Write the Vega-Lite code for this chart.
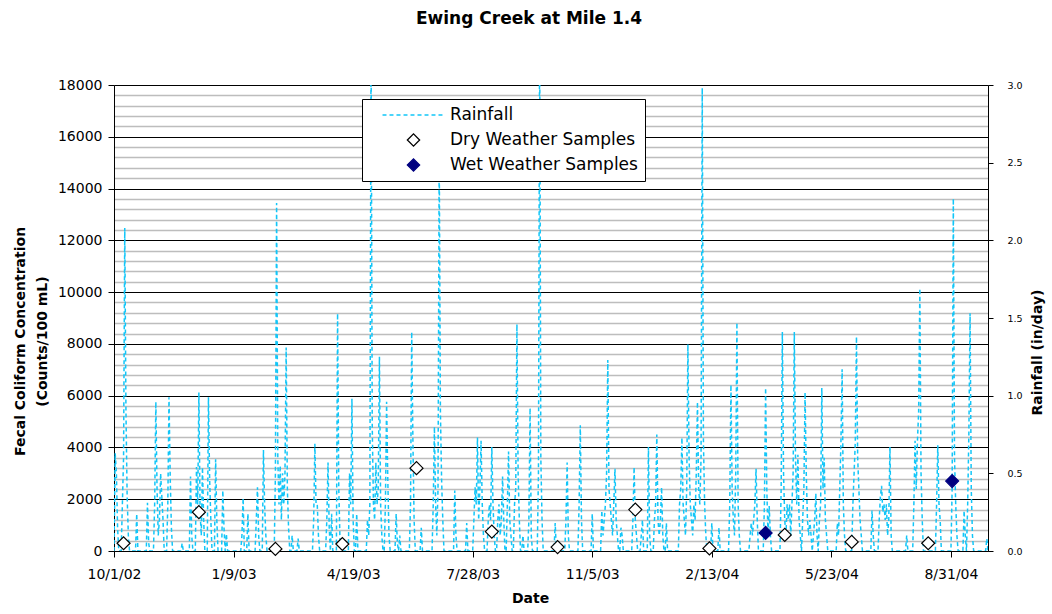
{
"$schema":"https://vega.github.io/schema/vega-lite/v6.json",
"width":874,"height":466,
"autosize":{"type":"none"},
"padding":{"left":114,"top":85,"right":64,"bottom":63},
"background":"white",
"config":{"font":"DejaVu Sans","view":{"stroke":null},
 "axis":{"labelFont":"DejaVu Sans","titleFont":"DejaVu Sans","domainColor":"black","tickColor":"black","labelColor":"black","titleColor":"black","titleFontWeight":"bold","titleFontSize":14}},
"title":{"text":"Ewing Creek at Mile 1.4","font":"DejaVu Sans","fontWeight":"bold","fontSize":17,"anchor":"middle","frame":"group","dx":-22,"offset":50,"color":"black"},
"datasets":{
"rain":[
{"d":"2002-10-01","r":0},{"d":"2002-10-02","r":0.63},{"d":"2002-10-03","r":0.5},{"d":"2002-10-04","r":0.15},{"d":"2002-10-05","r":0},
{"d":"2002-10-07","r":0},{"d":"2002-10-08","r":0.3},{"d":"2002-10-09","r":0.6},{"d":"2002-10-10","r":2.08},{"d":"2002-10-11","r":0.9},{"d":"2002-10-12","r":0.35},{"d":"2002-10-13","r":0.1},{"d":"2002-10-14","r":0},
{"d":"2002-10-19","r":0},{"d":"2002-10-20","r":0.24},{"d":"2002-10-21","r":0},
{"d":"2002-10-28","r":0},{"d":"2002-10-29","r":0.31},{"d":"2002-10-30","r":0.05},{"d":"2002-10-31","r":0},
{"d":"2002-11-03","r":0},{"d":"2002-11-04","r":0.3},{"d":"2002-11-05","r":0.96},{"d":"2002-11-06","r":0.4},{"d":"2002-11-07","r":0.1},{"d":"2002-11-08","r":0.2},{"d":"2002-11-09","r":0.5},{"d":"2002-11-10","r":0.35},{"d":"2002-11-11","r":0.2},{"d":"2002-11-12","r":0},
{"d":"2002-11-14","r":0},{"d":"2002-11-15","r":0.3},{"d":"2002-11-16","r":0.99},{"d":"2002-11-17","r":0.48},{"d":"2002-11-18","r":0.15},{"d":"2002-11-19","r":0},
{"d":"2002-11-26","r":0},{"d":"2002-11-27","r":0.05},{"d":"2002-11-28","r":0},
{"d":"2002-12-03","r":0},{"d":"2002-12-04","r":0.48},{"d":"2002-12-05","r":0.1},{"d":"2002-12-06","r":0},
{"d":"2002-12-08","r":0},{"d":"2002-12-09","r":0.54},{"d":"2002-12-10","r":0.3},{"d":"2002-12-11","r":1.02},{"d":"2002-12-12","r":0.25},{"d":"2002-12-13","r":0.1},{"d":"2002-12-14","r":0.54},{"d":"2002-12-15","r":0.2},{"d":"2002-12-16","r":0},
{"d":"2002-12-18","r":0},{"d":"2002-12-19","r":0.99},{"d":"2002-12-20","r":0.46},{"d":"2002-12-21","r":0.2},{"d":"2002-12-22","r":0},
{"d":"2002-12-24","r":0},{"d":"2002-12-25","r":0.59},{"d":"2002-12-26","r":0.2},{"d":"2002-12-27","r":0},
{"d":"2002-12-30","r":0},{"d":"2002-12-31","r":0.39},{"d":"2003-01-01","r":0.15},{"d":"2003-01-02","r":0},{"d":"2003-01-03","r":0.11},{"d":"2003-01-04","r":0},
{"d":"2003-01-15","r":0},{"d":"2003-01-16","r":0.1},{"d":"2003-01-17","r":0.34},{"d":"2003-01-18","r":0},
{"d":"2003-01-20","r":0},{"d":"2003-01-21","r":0.24},{"d":"2003-01-22","r":0},
{"d":"2003-01-27","r":0},{"d":"2003-01-28","r":0.2},{"d":"2003-01-29","r":0.41},{"d":"2003-01-30","r":0.1},{"d":"2003-01-31","r":0},
{"d":"2003-02-02","r":0},{"d":"2003-02-03","r":0.65},{"d":"2003-02-04","r":0.29},{"d":"2003-02-05","r":0.1},{"d":"2003-02-06","r":0},
{"d":"2003-02-12","r":0},{"d":"2003-02-13","r":0.5},{"d":"2003-02-14","r":2.24},{"d":"2003-02-15","r":0.6},{"d":"2003-02-16","r":0.3},{"d":"2003-02-17","r":0.55},{"d":"2003-02-18","r":0.2},{"d":"2003-02-19","r":0.5},{"d":"2003-02-20","r":0.3},{"d":"2003-02-21","r":0.5},{"d":"2003-02-22","r":1.31},{"d":"2003-02-23","r":0.4},{"d":"2003-02-24","r":0.15},{"d":"2003-02-25","r":0},
{"d":"2003-02-26","r":0},{"d":"2003-02-27","r":0.1},{"d":"2003-02-28","r":0},
{"d":"2003-03-03","r":0},{"d":"2003-03-04","r":0.08},{"d":"2003-03-05","r":0},
{"d":"2003-03-16","r":0},{"d":"2003-03-17","r":0.2},{"d":"2003-03-18","r":0.69},{"d":"2003-03-19","r":0.3},{"d":"2003-03-20","r":0.3},{"d":"2003-03-21","r":0.1},{"d":"2003-03-22","r":0},
{"d":"2003-03-27","r":0},{"d":"2003-03-28","r":0.2},{"d":"2003-03-29","r":0.57},{"d":"2003-03-30","r":0.15},{"d":"2003-03-31","r":0},{"d":"2003-04-01","r":0.24},{"d":"2003-04-02","r":0},
{"d":"2003-04-05","r":0},{"d":"2003-04-06","r":1.53},{"d":"2003-04-07","r":0.4},{"d":"2003-04-08","r":0.07},{"d":"2003-04-09","r":0},
{"d":"2003-04-15","r":0},{"d":"2003-04-16","r":0.5},{"d":"2003-04-17","r":0.3},{"d":"2003-04-18","r":0.98},{"d":"2003-04-19","r":0.2},{"d":"2003-04-20","r":0},
{"d":"2003-04-21","r":0},{"d":"2003-04-22","r":0.24},{"d":"2003-04-23","r":0},
{"d":"2003-04-30","r":0},{"d":"2003-05-01","r":0.2},{"d":"2003-05-02","r":0.1},{"d":"2003-05-03","r":0.3},{"d":"2003-05-04","r":3.3},{"d":"2003-05-05","r":0.8},{"d":"2003-05-06","r":0.3},{"d":"2003-05-07","r":0.2},{"d":"2003-05-08","r":0.57},{"d":"2003-05-09","r":0.3},{"d":"2003-05-10","r":0.4},{"d":"2003-05-11","r":1.25},{"d":"2003-05-12","r":0.3},{"d":"2003-05-13","r":0.1},{"d":"2003-05-14","r":0},
{"d":"2003-05-15","r":0},{"d":"2003-05-16","r":0.3},{"d":"2003-05-17","r":0.96},{"d":"2003-05-18","r":0.46},{"d":"2003-05-19","r":0.1},{"d":"2003-05-20","r":0},
{"d":"2003-05-24","r":0},{"d":"2003-05-25","r":0.24},{"d":"2003-05-26","r":0.05},{"d":"2003-05-27","r":0},{"d":"2003-05-28","r":0.1},{"d":"2003-05-29","r":0},
{"d":"2003-06-05","r":0},{"d":"2003-06-06","r":0.3},{"d":"2003-06-07","r":1.41},{"d":"2003-06-08","r":0.71},{"d":"2003-06-09","r":0.2},{"d":"2003-06-10","r":0},
{"d":"2003-06-14","r":0},{"d":"2003-06-15","r":0.15},{"d":"2003-06-16","r":0},
{"d":"2003-06-24","r":0},{"d":"2003-06-25","r":0.3},{"d":"2003-06-26","r":0.8},{"d":"2003-06-27","r":0.3},{"d":"2003-06-28","r":0.1},{"d":"2003-06-29","r":0.4},{"d":"2003-06-30","r":2.6},{"d":"2003-07-01","r":0.9},{"d":"2003-07-02","r":0.46},{"d":"2003-07-03","r":0.2},{"d":"2003-07-04","r":0},
{"d":"2003-07-12","r":0},{"d":"2003-07-13","r":0.39},{"d":"2003-07-14","r":0.1},{"d":"2003-07-15","r":0},
{"d":"2003-07-22","r":0},{"d":"2003-07-23","r":0.18},{"d":"2003-07-24","r":0},
{"d":"2003-07-28","r":0},{"d":"2003-07-29","r":0.2},{"d":"2003-07-30","r":0.41},{"d":"2003-07-31","r":0.3},{"d":"2003-08-01","r":0.73},{"d":"2003-08-02","r":0.2},{"d":"2003-08-03","r":0.4},{"d":"2003-08-04","r":0.71},{"d":"2003-08-05","r":0.3},{"d":"2003-08-06","r":0.1},{"d":"2003-08-07","r":0},
{"d":"2003-08-09","r":0},{"d":"2003-08-10","r":0.2},{"d":"2003-08-11","r":0.3},{"d":"2003-08-12","r":0.2},{"d":"2003-08-13","r":0.67},{"d":"2003-08-14","r":0.3},{"d":"2003-08-15","r":0.1},{"d":"2003-08-16","r":0},
{"d":"2003-08-17","r":0},{"d":"2003-08-18","r":0.2},{"d":"2003-08-19","r":0.3},{"d":"2003-08-20","r":0.1},{"d":"2003-08-21","r":0.2},{"d":"2003-08-22","r":0.48},{"d":"2003-08-23","r":0.2},{"d":"2003-08-24","r":0},
{"d":"2003-08-25","r":0},{"d":"2003-08-26","r":0.3},{"d":"2003-08-27","r":0.64},{"d":"2003-08-28","r":0.2},{"d":"2003-08-29","r":0.1},{"d":"2003-08-30","r":0},
{"d":"2003-08-31","r":0},{"d":"2003-09-01","r":0.3},{"d":"2003-09-02","r":0.4},{"d":"2003-09-03","r":1.46},{"d":"2003-09-04","r":0.5},{"d":"2003-09-05","r":0.2},{"d":"2003-09-06","r":0},
{"d":"2003-09-07","r":0},{"d":"2003-09-08","r":0.1},{"d":"2003-09-09","r":0},
{"d":"2003-09-12","r":0},{"d":"2003-09-13","r":0.2},{"d":"2003-09-14","r":0.92},{"d":"2003-09-15","r":0.1},{"d":"2003-09-16","r":0},
{"d":"2003-09-20","r":0},{"d":"2003-09-21","r":0.5},{"d":"2003-09-22","r":3.4},{"d":"2003-09-23","r":0.6},{"d":"2003-09-24","r":0.2},{"d":"2003-09-25","r":0},
{"d":"2003-10-04","r":0},{"d":"2003-10-05","r":0.18},{"d":"2003-10-06","r":0},
{"d":"2003-10-13","r":0},{"d":"2003-10-14","r":0.2},{"d":"2003-10-15","r":0.57},{"d":"2003-10-16","r":0.1},{"d":"2003-10-17","r":0},
{"d":"2003-10-24","r":0},{"d":"2003-10-25","r":0.3},{"d":"2003-10-26","r":0.81},{"d":"2003-10-27","r":0.2},{"d":"2003-10-28","r":0},
{"d":"2003-11-04","r":0},{"d":"2003-11-05","r":0.24},{"d":"2003-11-06","r":0},
{"d":"2003-11-12","r":0},{"d":"2003-11-13","r":0.26},{"d":"2003-11-14","r":0.1},{"d":"2003-11-15","r":0.2},{"d":"2003-11-16","r":0.3},{"d":"2003-11-17","r":0.5},{"d":"2003-11-18","r":1.23},{"d":"2003-11-19","r":0.4},{"d":"2003-11-20","r":0.3},{"d":"2003-11-21","r":0.2},{"d":"2003-11-22","r":0.1},{"d":"2003-11-23","r":0.3},{"d":"2003-11-24","r":0.53},{"d":"2003-11-25","r":0.2},{"d":"2003-11-26","r":0.1},{"d":"2003-11-27","r":0},
{"d":"2003-11-28","r":0},{"d":"2003-11-29","r":0.15},{"d":"2003-11-30","r":0.1},{"d":"2003-12-01","r":0},
{"d":"2003-12-08","r":0},{"d":"2003-12-09","r":0.2},{"d":"2003-12-10","r":0.54},{"d":"2003-12-11","r":0.2},{"d":"2003-12-12","r":0.1},{"d":"2003-12-13","r":0},
{"d":"2003-12-15","r":0},{"d":"2003-12-16","r":0.1},{"d":"2003-12-17","r":0.2},{"d":"2003-12-18","r":0},
{"d":"2003-12-21","r":0},{"d":"2003-12-22","r":0.67},{"d":"2003-12-23","r":0.1},{"d":"2003-12-24","r":0},
{"d":"2003-12-26","r":0},{"d":"2003-12-27","r":0.2},{"d":"2003-12-28","r":0.3},{"d":"2003-12-29","r":0.75},{"d":"2003-12-30","r":0.2},{"d":"2003-12-31","r":0.1},{"d":"2004-01-01","r":0.2},{"d":"2004-01-02","r":0.41},{"d":"2004-01-03","r":0.1},{"d":"2004-01-04","r":0},
{"d":"2004-01-05","r":0},{"d":"2004-01-06","r":0.18},{"d":"2004-01-07","r":0},
{"d":"2004-01-16","r":0},{"d":"2004-01-17","r":0.3},{"d":"2004-01-18","r":0.4},{"d":"2004-01-19","r":0.73},{"d":"2004-01-20","r":0.3},{"d":"2004-01-21","r":0.2},{"d":"2004-01-22","r":0.1},{"d":"2004-01-23","r":0.4},{"d":"2004-01-24","r":1.33},{"d":"2004-01-25","r":0.6},{"d":"2004-01-26","r":0.3},{"d":"2004-01-27","r":0.2},{"d":"2004-01-28","r":0.1},{"d":"2004-01-29","r":0.3},{"d":"2004-01-30","r":0.2},{"d":"2004-01-31","r":0.5},{"d":"2004-02-01","r":0.96},{"d":"2004-02-02","r":0.4},{"d":"2004-02-03","r":0.3},{"d":"2004-02-04","r":0.6},{"d":"2004-02-05","r":2.98},{"d":"2004-02-06","r":0.7},{"d":"2004-02-07","r":0.3},{"d":"2004-02-08","r":0.1},{"d":"2004-02-09","r":0},
{"d":"2004-02-12","r":0},{"d":"2004-02-13","r":0.18},{"d":"2004-02-14","r":0},
{"d":"2004-02-18","r":0},{"d":"2004-02-19","r":0.15},{"d":"2004-02-20","r":0},
{"d":"2004-02-27","r":0},{"d":"2004-02-28","r":0.3},{"d":"2004-02-29","r":1.07},{"d":"2004-03-01","r":0.4},{"d":"2004-03-02","r":0.2},{"d":"2004-03-03","r":0.1},{"d":"2004-03-04","r":0.5},{"d":"2004-03-05","r":1.47},{"d":"2004-03-06","r":0.3},{"d":"2004-03-07","r":0.1},{"d":"2004-03-08","r":0},
{"d":"2004-03-15","r":0},{"d":"2004-03-16","r":0.1},{"d":"2004-03-17","r":0.18},{"d":"2004-03-18","r":0.1},{"d":"2004-03-19","r":0.2},{"d":"2004-03-20","r":0.3},{"d":"2004-03-21","r":0.53},{"d":"2004-03-22","r":0.2},{"d":"2004-03-23","r":0},
{"d":"2004-03-27","r":0},{"d":"2004-03-28","r":0.3},{"d":"2004-03-29","r":1.05},{"d":"2004-03-30","r":0.4},{"d":"2004-03-31","r":0.1},{"d":"2004-04-01","r":0.29},{"d":"2004-04-02","r":0.1},{"d":"2004-04-03","r":0},
{"d":"2004-04-10","r":0},{"d":"2004-04-11","r":0.4},{"d":"2004-04-12","r":1.41},{"d":"2004-04-13","r":0.5},{"d":"2004-04-14","r":0.2},{"d":"2004-04-15","r":0.1},{"d":"2004-04-16","r":0.3},{"d":"2004-04-17","r":0.2},{"d":"2004-04-18","r":0.3},{"d":"2004-04-19","r":0.1},{"d":"2004-04-20","r":0.3},{"d":"2004-04-21","r":0.5},{"d":"2004-04-22","r":1.41},{"d":"2004-04-23","r":0.6},{"d":"2004-04-24","r":0.3},{"d":"2004-04-25","r":0.62},{"d":"2004-04-26","r":0.2},{"d":"2004-04-27","r":0.1},{"d":"2004-04-28","r":0},
{"d":"2004-04-29","r":0.2},{"d":"2004-04-30","r":0.4},{"d":"2004-05-01","r":1.02},{"d":"2004-05-02","r":0.5},{"d":"2004-05-03","r":0.2},{"d":"2004-05-04","r":0.1},{"d":"2004-05-05","r":0.2},{"d":"2004-05-06","r":0.1},{"d":"2004-05-07","r":0},
{"d":"2004-05-08","r":0.1},{"d":"2004-05-09","r":0.2},{"d":"2004-05-10","r":0.37},{"d":"2004-05-11","r":0.1},{"d":"2004-05-12","r":0},
{"d":"2004-05-13","r":0.2},{"d":"2004-05-14","r":0.3},{"d":"2004-05-15","r":1.05},{"d":"2004-05-16","r":0.4},{"d":"2004-05-17","r":0.6},{"d":"2004-05-18","r":0.2},{"d":"2004-05-19","r":0.1},{"d":"2004-05-20","r":0},
{"d":"2004-05-27","r":0},{"d":"2004-05-28","r":0.18},{"d":"2004-05-29","r":0.1},{"d":"2004-05-30","r":0.4},{"d":"2004-05-31","r":0.7},{"d":"2004-06-01","r":1.17},{"d":"2004-06-02","r":0.3},{"d":"2004-06-03","r":0.1},{"d":"2004-06-04","r":0},
{"d":"2004-06-09","r":0},{"d":"2004-06-10","r":0.3},{"d":"2004-06-11","r":0.5},{"d":"2004-06-12","r":0.7},{"d":"2004-06-13","r":1.38},{"d":"2004-06-14","r":0.6},{"d":"2004-06-15","r":0.4},{"d":"2004-06-16","r":0.2},{"d":"2004-06-17","r":0.1},{"d":"2004-06-18","r":0},
{"d":"2004-06-25","r":0},{"d":"2004-06-26","r":0.26},{"d":"2004-06-27","r":0.1},{"d":"2004-06-28","r":0},
{"d":"2004-07-01","r":0},{"d":"2004-07-02","r":0.2},{"d":"2004-07-03","r":0.35},{"d":"2004-07-04","r":0.42},{"d":"2004-07-05","r":0.25},{"d":"2004-07-06","r":0.3},{"d":"2004-07-07","r":0.2},{"d":"2004-07-08","r":0.3},{"d":"2004-07-09","r":0.1},{"d":"2004-07-10","r":0.2},{"d":"2004-07-11","r":0.67},{"d":"2004-07-12","r":0.1},{"d":"2004-07-13","r":0},
{"d":"2004-07-24","r":0},{"d":"2004-07-25","r":0.1},{"d":"2004-07-26","r":0},
{"d":"2004-07-30","r":0},{"d":"2004-07-31","r":0.3},{"d":"2004-08-01","r":0.71},{"d":"2004-08-02","r":0.4},{"d":"2004-08-03","r":0.71},{"d":"2004-08-04","r":0.9},{"d":"2004-08-05","r":1.69},{"d":"2004-08-06","r":0.5},{"d":"2004-08-07","r":0.2},{"d":"2004-08-08","r":0},
{"d":"2004-08-18","r":0},{"d":"2004-08-19","r":0.3},{"d":"2004-08-20","r":0.68},{"d":"2004-08-21","r":0.3},{"d":"2004-08-22","r":0.2},{"d":"2004-08-23","r":0},
{"d":"2004-08-31","r":0},{"d":"2004-09-01","r":0.4},{"d":"2004-09-02","r":2.27},{"d":"2004-09-03","r":0.6},{"d":"2004-09-04","r":0.3},{"d":"2004-09-05","r":0.1},{"d":"2004-09-06","r":0},
{"d":"2004-09-10","r":0},{"d":"2004-09-11","r":0.26},{"d":"2004-09-12","r":0.1},{"d":"2004-09-13","r":0},{"d":"2004-09-14","r":0.3},{"d":"2004-09-15","r":0.76},{"d":"2004-09-16","r":1.53},{"d":"2004-09-17","r":0.4},{"d":"2004-09-18","r":0.1},{"d":"2004-09-19","r":0},
{"d":"2004-09-29","r":0},{"d":"2004-09-30","r":0.08},{"d":"2004-10-01","r":0}
],
"samples":[
{"d":"2002-10-09","v":300,"series":"Dry Weather Samples"},
{"d":"2002-12-11","v":1500,"series":"Dry Weather Samples"},
{"d":"2003-02-13","v":80,"series":"Dry Weather Samples"},
{"d":"2003-04-10","v":270,"series":"Dry Weather Samples"},
{"d":"2003-06-11","v":3200,"series":"Dry Weather Samples"},
{"d":"2003-08-13","v":750,"series":"Dry Weather Samples"},
{"d":"2003-10-07","v":150,"series":"Dry Weather Samples"},
{"d":"2003-12-11","v":1600,"series":"Dry Weather Samples"},
{"d":"2004-02-11","v":100,"series":"Dry Weather Samples"},
{"d":"2004-04-14","v":620,"series":"Dry Weather Samples"},
{"d":"2004-06-09","v":350,"series":"Dry Weather Samples"},
{"d":"2004-08-12","v":300,"series":"Dry Weather Samples"},
{"d":"2004-03-29","v":700,"series":"Wet Weather Samples"},
{"d":"2004-09-01","v":2700,"series":"Wet Weather Samples"}
]},
"encoding":{"x":{"field":"d","type":"temporal",
 "scale":{"type":"utc","domain":[{"year":2002,"month":10,"date":1,"utc":true},{"year":2004,"month":10,"date":1,"utc":true}]},
 "axis":{"values":[{"year":2002,"month":10,"date":1,"utc":true},{"year":2003,"month":1,"date":9,"utc":true},{"year":2003,"month":4,"date":19,"utc":true},{"year":2003,"month":7,"date":28,"utc":true},{"year":2003,"month":11,"date":5,"utc":true},{"year":2004,"month":2,"date":13,"utc":true},{"year":2004,"month":5,"date":23,"utc":true},{"year":2004,"month":8,"date":31,"utc":true}],
 "format":"%-m/%-d/%y","grid":false,"labelFontSize":14,"labelFlush":false,"labelOverlap":false,"tickSize":6,"labelPadding":10,
 "title":"Date","titleX":416,"titleY":40,"titleBaseline":"top","titleAlign":"center"}}},
"layer":[
{"data":{"name":"samples"},"mark":{"type":"point","opacity":0},
 "encoding":{"y":{"field":"v","type":"quantitative","scale":{"domain":[0,18000],"nice":false},
  "axis":{"orient":"left","values":[400,800,1200,1600,2400,2800,3200,3600,4400,4800,5200,5600,6400,6800,7200,7600,8400,8800,9200,9600,10400,10800,11200,11600,12400,12800,13200,13600,14400,14800,15200,15600,16400,16800,17200,17600],
   "grid":true,"gridColor":"#bdbdbd","gridWidth":1.5,"labels":false,"ticks":false,"domain":false,"title":null}}}},
{"data":{"name":"rain"},"mark":{"type":"line","color":"#12C6F8","strokeDash":[4,3],"strokeWidth":1.5,"clip":true},
 "encoding":{"y":{"field":"r","type":"quantitative","scale":{"domain":[0,3],"nice":false},
  "axis":{"orient":"right","values":[0,0.5,1,1.5,2,2.5,3],"format":".1f","grid":false,"labelFontSize":9.5,"tickSize":5,"labelPadding":14,
   "title":"Rainfall (in/day)","titleAngle":270,"titleX":49,"titleY":267,"titleBaseline":"middle","titleAlign":"center"}}}},
{"data":{"name":"samples"},"mark":{"type":"point","size":169,"strokeWidth":1.2,"opacity":1},
 "encoding":{"y":{"field":"v","type":"quantitative","scale":{"domain":[0,18000],"nice":false},
  "axis":{"orient":"left","values":[0,2000,4000,6000,8000,10000,12000,14000,16000,18000],"format":"d","grid":true,"gridColor":"black","gridWidth":1.2,"labelFontSize":14,"tickSize":6,"labelPadding":6,
   "title":["Fecal Coliform Concentration","(Counts/100 mL)"],"titleAngle":270,"titleX":-94,"titleY":256,"titleBaseline":"middle","titleAlign":"center","titleLineHeight":22}},
  "shape":{"field":"series","type":"nominal","scale":{"domain":["Rainfall","Dry Weather Samples","Wet Weather Samples"],"range":["M-5.06,0H-4.41M-3.92,0H-3.27M-2.78,0H-2.12M-1.63,0H-0.98M-0.49,0H0.16M0.65,0H1.31M1.8,0H2.45M2.94,0H3.59M4.08,0H4.73","diamond","diamond"]},
   "legend":{"orient":"none","legendX":248,"legendY":14,"title":null,"direction":"vertical","columns":1,"strokeColor":"black","fillColor":"white","padding":7,"labelFont":"DejaVu Sans","labelFontSize":17,"labelColor":"black","labelLimit":400,"labelOffset":28,"rowPadding":7,"clipHeight":18,"symbolOffset":36,"symbolSize":150,"symbolStrokeWidth":1.3}},
  "fill":{"field":"series","type":"nominal","scale":{"domain":["Rainfall","Dry Weather Samples","Wet Weather Samples"],"range":["transparent","white","#000080"]},
   "legend":{"orient":"none","legendX":248,"legendY":14,"title":null,"direction":"vertical","columns":1,"strokeColor":"black","fillColor":"white","padding":7,"labelFont":"DejaVu Sans","labelFontSize":17,"labelColor":"black","labelLimit":400,"labelOffset":28,"rowPadding":7,"clipHeight":18,"symbolOffset":36,"symbolSize":150,"symbolStrokeWidth":1.3}},
  "stroke":{"field":"series","type":"nominal","scale":{"domain":["Rainfall","Dry Weather Samples","Wet Weather Samples"],"range":["#12C6F8","black","#000080"]},
   "legend":{"orient":"none","legendX":248,"legendY":14,"title":null,"direction":"vertical","columns":1,"strokeColor":"black","fillColor":"white","padding":7,"labelFont":"DejaVu Sans","labelFontSize":17,"labelColor":"black","labelLimit":400,"labelOffset":28,"rowPadding":7,"clipHeight":18,"symbolOffset":36,"symbolSize":150,"symbolStrokeWidth":1.3}}
 }}
],
"resolve":{"scale":{"y":"independent"}}
}
